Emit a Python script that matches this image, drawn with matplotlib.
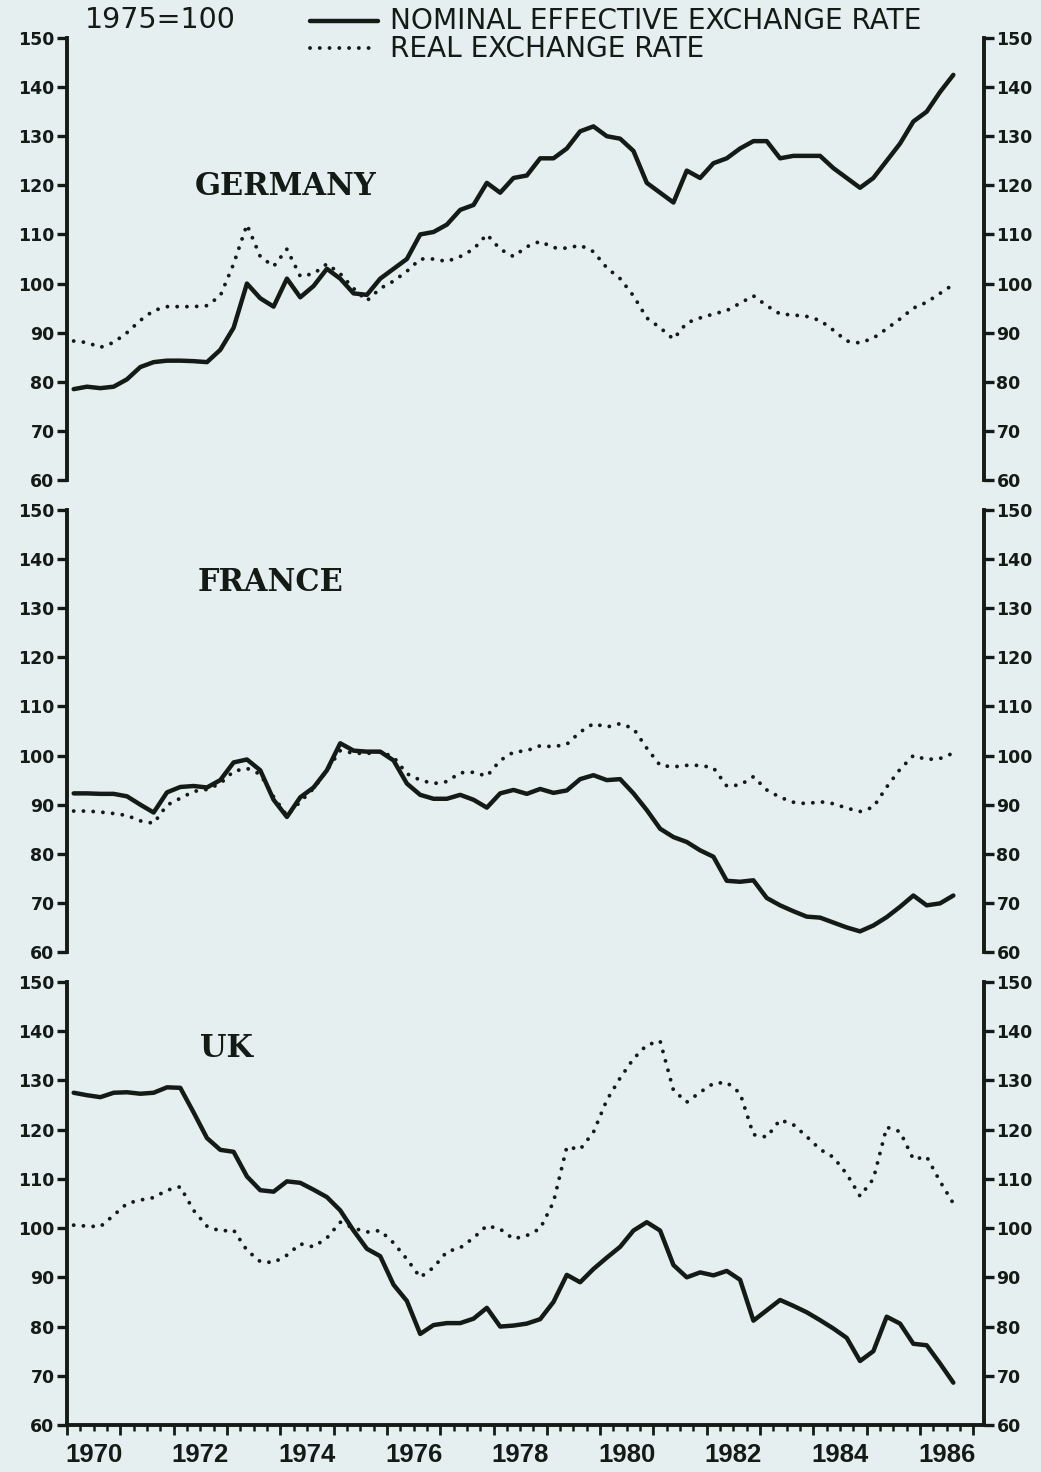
import numpy as np
import matplotlib
matplotlib.use("Agg")
import matplotlib.pyplot as plt
from matplotlib.lines import Line2D
from matplotlib.ticker import MultipleLocator

# quarterly index values, 1975 = 100, 1970Q1 .. 1986Q3
ger_nominal = [78.5, 79, 78.7, 79, 80.5, 83, 84, 84.3, 84.3, 84.2, 84, 86.5,
               91, 100, 97, 95.3, 101, 97.2, 99.5, 103, 101, 98, 97.7, 101,
               103, 105, 110, 110.5, 112, 115, 116, 120.5, 118.5, 121.5,
               122, 125.5, 125.5, 127.5, 131, 132, 130, 129.5, 127, 120.5,
               118.5, 116.5, 123, 121.5, 124.5, 125.5, 127.5, 129, 129, 125.5,
               126, 126, 126, 123.5, 121.5, 119.5, 121.5, 125, 128.5, 133,
               135, 139, 142.5]
ger_real = [88.3, 88, 87, 88, 90, 92.5, 94.5, 95.3, 95.3, 95.3, 95.5, 97.5,
            104, 112, 105.5, 103.5, 107, 101.5, 102, 104, 102, 99, 96.5, 99,
            100.5, 102.5, 105, 105, 104.5, 105.5, 107, 110, 107, 105.5,
            107.5, 108.6, 107.3, 107.2, 107.8, 106.5, 103.2, 101, 97.5, 93,
            91, 88.7, 92, 93, 93.8, 94.5, 96, 97.5, 95.5, 93.8, 93.6, 93.3,
            92.5, 90.5, 88.3, 87.9, 88.9, 90.8, 92.8, 95, 96.2, 98, 99.8]

fra_nominal = [92.3, 92.3, 92.2, 92.2, 91.7, 90, 88.4, 92.5, 93.6, 93.8, 93.5,
               95, 98.6, 99.2, 97, 91, 87.5, 91.5, 93.5, 97, 102.5, 101, 100.8,
               100.8, 99, 94.3, 92, 91.2, 91.2, 92, 91, 89.4, 92.3, 93,
               92.2, 93.2, 92.4, 92.9, 95.2, 96, 95, 95.2, 92.3, 88.9, 85.1,
               83.4, 82.4, 80.7, 79.4, 74.5, 74.3, 74.6, 71, 69.5, 68.3, 67.2,
               67, 66, 65, 64.2, 65.4, 67.1, 69.2, 71.5, 69.5, 69.9, 71.5]
fra_real = [88.7, 88.7, 88.5, 88.2, 87.8, 86.7, 86.2, 89.9, 91.3, 92.7, 93.1,
            94.3, 96.8, 97.4, 96.2, 91.6, 87.8, 90.6, 93.3, 97, 101, 100.5,
            100.4, 100.8, 99.7, 96.3, 95, 94.3, 94.7, 96.5, 96.6, 95.8, 99,
            100.7, 101, 102, 101.8, 102.3, 104.8, 106.5, 105.8, 106.5, 105.5,
            101.5, 98, 97.7, 98, 98, 97.5, 93.8, 94, 95.7, 93, 91.5, 90.5,
            90.2, 90.6, 90.2, 89.3, 88.6, 89.5, 93.6, 97.2, 100, 99.2, 99.4,
            100.5]

uk_nominal = [127.5, 127, 126.6, 127.5, 127.6, 127.3, 127.5, 128.6, 128.5,
              123.5, 118.3, 115.9, 115.5, 110.5, 107.7, 107.4, 109.5, 109.2,
              107.8, 106.3, 103.6, 99.5, 95.8, 94.3, 88.5, 85.2, 78.5, 80.3,
              80.7, 80.7, 81.6, 83.8, 80, 80.2, 80.6, 81.5, 85, 90.5, 89, 91.7,
              94, 96.2, 99.5, 101.2, 99.5, 92.5, 90, 91, 90.4, 91.3, 89.5,
              81.2, 83.3, 85.4, 84.2, 82.9, 81.3, 79.6, 77.7, 73, 75, 82,
              80.6, 76.5, 76.2, 72.5, 68.6]
uk_real = [100.6, 100.4, 100.3, 102.6, 105, 105.7, 106.2, 107.7, 108.4, 103.6,
           100.4, 99.4, 99.6, 95.5, 93.2, 93, 94.5, 96.8, 96.2, 98, 101.2, 100,
           99.2, 99.5, 97, 93.7, 90, 92, 95.2, 96, 98, 100.5, 99.8, 97.8,
           98.5, 99.9, 105.3, 116.5, 116, 119.5, 126, 130.5, 134.4, 137.2,
           138, 128, 125.6, 127.6, 129.4, 129.6, 127.4, 119, 118.5, 122, 121,
           118.6, 116, 114.4, 111, 106.5, 110, 120.5, 119.6, 114, 114.5,
           109.5, 105]

countries = ["GERMANY", "FRANCE", "UK"]
year_labels = ["1970", "1972", "1974", "1976", "1978", "1980", "1982", "1984", "1986"]

# mid-quarter positions
quarters = 1970.125 + 0.25 * np.arange(len(ger_nominal))

BG = "#e5eff0"
INK = "#141b16"
DOTS = (0, (0.01, 2.5))

fig = plt.figure(figsize=(10.41, 14.72), dpi=100, facecolor=BG)

left, width = 67 / 1041, (984 - 67) / 1041
rects = [
    (left, 1 - 480 / 1472, width, 442 / 1472),
    (left, 1 - 952 / 1472, width, 442 / 1472),
    (left, 1 - 1425 / 1472, width, 443 / 1472),
]
series = [(ger_nominal, ger_real), (fra_nominal, fra_real), (uk_nominal, uk_real)]
name_pos = [(1972.4, 119.7), (1972.45, 135.2), (1972.5, 136.4)]

tick_font = dict(family="DejaVu Sans", weight="bold", size=12.5)

for k, rect in enumerate(rects):
    ax = fig.add_axes(rect)
    ax.set_facecolor("none")
    nom, real = series[k]
    ax.plot(quarters, nom, color=INK, lw=3.2, solid_joinstyle="round",
            solid_capstyle="round")
    ax.plot(quarters, real, color=INK, lw=2.8, linestyle=DOTS,
            dash_capstyle="round")
    ax.set_xlim(1970, 1987.2)
    ax.set_ylim(60, 150)
    ax.set_yticks(np.arange(60, 151, 10))
    ax.spines["top"].set_visible(False)
    for s in ("left", "right", "bottom"):
        ax.spines[s].set_linewidth(2.8)
        ax.spines[s].set_color(INK)
    ax.tick_params(axis="y", which="both", left=True, right=True,
                   labelleft=True, labelright=True, direction="out",
                   length=7, width=2.4, pad=2, colors=INK)
    for lab in ax.get_yticklabels():
        lab.set_fontproperties(tick_font)
        lab.set_color(INK)

    nx, ny = name_pos[k]
    ax.text(nx, ny, countries[k], ha="left", va="center", color=INK,
            family="DejaVu Serif", weight="bold", size=22)

    if k < 2:
        ax.spines["bottom"].set_visible(False)
        ax.tick_params(axis="x", which="both", bottom=False, labelbottom=False)
    else:
        ax.xaxis.set_major_locator(MultipleLocator(1))
        ax.xaxis.set_minor_locator(MultipleLocator(0.25))
        ax.tick_params(axis="x", which="major", direction="out", length=7,
                       width=2, colors=INK, labelbottom=False)
        ax.tick_params(axis="x", which="minor", direction="out", length=4,
                       width=1.8, colors=INK)
        for lab in year_labels:
            ax.annotate(lab, xy=(int(lab) + 0.5, 0),
                        xycoords=("data", "axes fraction"),
                        xytext=(0, -13), textcoords="offset points",
                        ha="center", va="top", color=INK,
                        family="Liberation Sans", weight="bold", size=18.5)

# header and key
fig.text(85 / 1041, 1 - 20 / 1472, "1975=100", ha="left", va="center",
         color=INK, family="DejaVu Sans", size=20.5)
fig.add_artist(Line2D([310 / 1041, 378 / 1041], [1 - 21 / 1472] * 2,
                      color=INK, lw=3.2, solid_capstyle="round"))
fig.add_artist(Line2D([310 / 1041, 372 / 1041], [1 - 48 / 1472] * 2,
                      color=INK, lw=2.8, linestyle=DOTS,
                      dash_capstyle="round"))
fig.text(390 / 1041, 1 - 21 / 1472, "NOMINAL EFFECTIVE EXCHANGE RATE",
         ha="left", va="center", color=INK, family="DejaVu Sans", size=20.2)
fig.text(390 / 1041, 1 - 49 / 1472, "REAL EXCHANGE RATE",
         ha="left", va="center", color=INK, family="DejaVu Sans", size=20.2)

fig.savefig("out.png", dpi=100, facecolor=BG)
